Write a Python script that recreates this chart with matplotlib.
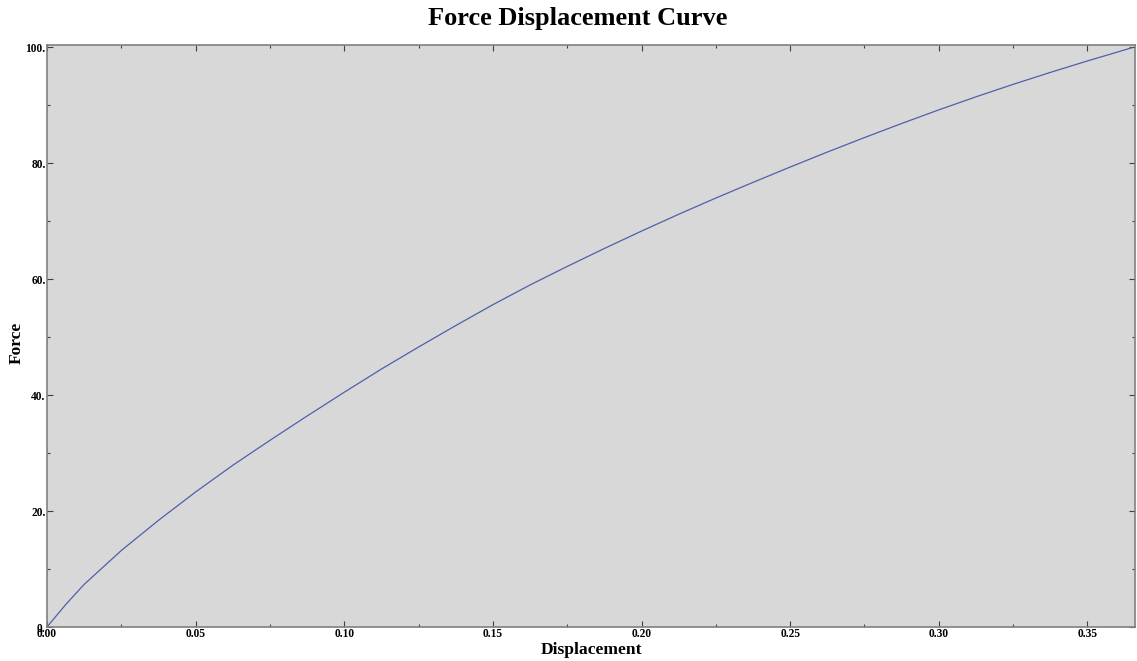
import matplotlib
matplotlib.use("Agg")
import matplotlib.pyplot as plt
from matplotlib.ticker import MultipleLocator, FixedLocator

displacement = [0.0, 0.00625, 0.0125, 0.025, 0.0375, 0.05, 0.0625, 0.075,
                0.0875, 0.1, 0.1125, 0.125, 0.1375, 0.15, 0.1625, 0.175,
                0.1875, 0.2, 0.2125, 0.225, 0.2375, 0.25, 0.2625, 0.275,
                0.2875, 0.3, 0.3125, 0.325, 0.3375, 0.35, 0.365]
force = [0.0, 3.85, 7.35, 13.2, 18.4, 23.3, 27.9, 32.2,
         36.4, 40.5, 44.5, 48.3, 52.0, 55.6, 59.0, 62.2,
         65.3, 68.3, 71.2, 74.0, 76.7, 79.35, 81.93, 84.43,
         86.86, 89.21, 91.46, 93.61, 95.67, 97.65, 99.93]

x_ticks = [0.00, 0.05, 0.10, 0.15, 0.20, 0.25, 0.30, 0.35]
x_tick_labels = ["0.00", "0.05", "0.10", "0.15", "0.20", "0.25", "0.30", "0.35"]
y_ticks = [0, 20, 40, 60, 80, 100]
y_tick_labels = ["0.", "20.", "40.", "60.", "80.", "100."]

plt.rcParams['font.family'] = ['Liberation Serif', 'DejaVu Serif']

fig = plt.figure(figsize=(11.37, 6.61), dpi=100)
ax = fig.add_axes([47/1137, 1-627/661, (1135-47)/1137, (627-45)/661])
ax.set_facecolor('#d8d8d8')
ax.plot(displacement, force, color='#4f5fab', linewidth=0.9)

ax.set_xlim(0, 0.366)
ax.set_ylim(0, 100.4)

ax.xaxis.set_major_locator(FixedLocator(x_ticks))
ax.set_xticklabels(x_tick_labels)
ax.yaxis.set_major_locator(FixedLocator(y_ticks))
ax.set_yticklabels(y_tick_labels)
ax.xaxis.set_minor_locator(MultipleLocator(0.025))
ax.yaxis.set_minor_locator(MultipleLocator(10))

for s in ax.spines.values():
    s.set_color('#808080')
    s.set_linewidth(1.2)

ax.tick_params(which='both', direction='in', top=True, right=True,
               color='#404040', labelsize=8.3, pad=1)
ax.tick_params(which='major', length=4, width=0.8)
ax.tick_params(which='minor', length=2, width=0.8)
for lab in ax.get_xticklabels() + ax.get_yticklabels():
    lab.set_fontweight('bold')

ax.set_xlabel('Displacement', fontsize=12.6, fontweight='bold', labelpad=1.5)
ax.set_ylabel('Force', fontsize=12.6, fontweight='bold')
ax.yaxis.set_label_coords(-0.0202, 0.488)
fig.text(578/1137, 1-19/661, 'Force Displacement Curve', fontsize=19,
         fontweight='bold', ha='center', va='center')

fig.savefig('out.png', dpi=100)
